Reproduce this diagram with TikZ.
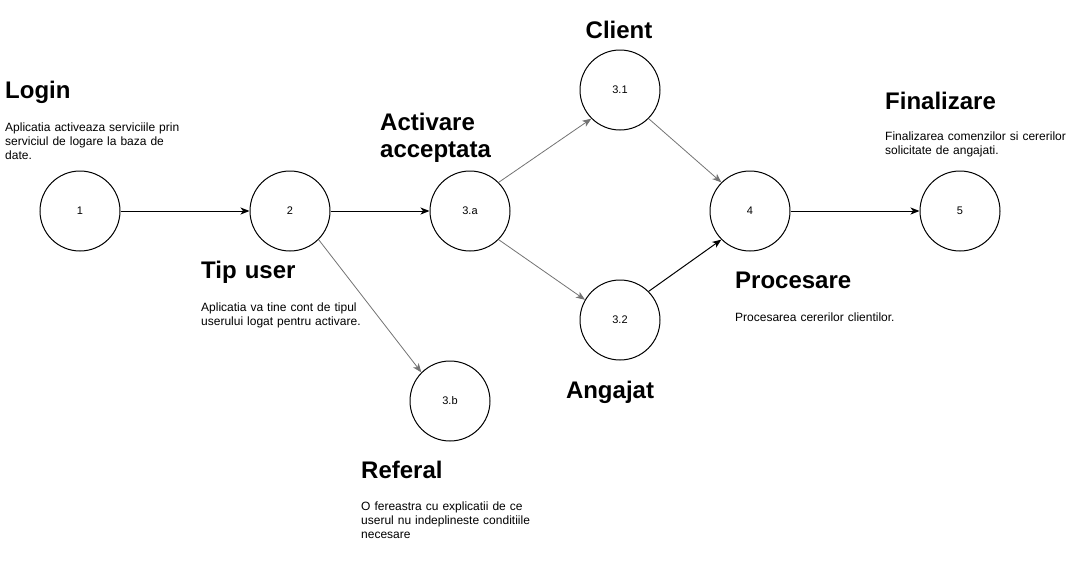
\documentclass[tikz,border=0pt]{standalone}
\usepackage{fontspec}
\setmainfont{Liberation Sans}
\usetikzlibrary{arrows.meta}
\tikzset{%
  proc/.style={
    draw, circle, minimum size=80pt, inner sep=0pt, line width=1pt,
    font=\fontsize{11}{13}\selectfont},
  heading/.style={
    anchor=base west, inner sep=0pt, text width=160pt,
    font=\fontsize{24}{27}\selectfont\bfseries},
  note/.style={
    anchor=base west, inner sep=0pt, text width=200pt,
    font=\fontsize{12}{14}\selectfont},
  every edge/.style={
    draw,
    ->,
    >={Stealth[length=9pt,width=7pt,inset=2.5pt]},
    line width=1pt},
  faint/.style={black!55, line width=0.8pt}
}
\begin{document}
\begin{tikzpicture}[x=1pt, y=-1pt]
    \useasboundingbox (0,0) rectangle (1071,571);

    % processes
    \node[proc] (P1)  at (80,211)  {1};
    \node[proc] (P2)  at (290,211) {2};
    \node[proc] (P3a) at (470,211) {3.a};
    \node[proc] (P31) at (620,90)  {3.1};
    \node[proc] (P32) at (620,320) {3.2};
    \node[proc] (P3b) at (450,401) {3.b};
    \node[proc] (P4)  at (750,211) {4};
    \node[proc] (P5)  at (960,211) {5};

    % headings and notes
    \node[heading] (T1) at (5,98) {Login};
    \node[note] (D1) at (5,131) {Aplicatia activeaza serviciile prin\\
      serviciul de logare la baza de\\ date.};
    \node[heading] (T2) at (201,278) {Tip user};
    \node[note] (D2) at (201,311) {Aplicatia va tine cont de tipul\\
      userului logat pentru activare.};
    \node[heading] (T3a) at (380,130) {Activare\\ acceptata};
    \node[heading, anchor=base, text width=] (T31) at (619,38) {Client};
    \node[heading, anchor=base, text width=] (T32) at (610,398) {Angajat};
    \node[heading] (T3b) at (361,478) {Referal};
    \node[note] (D3b) at (361,510) {O fereastra cu explicatii de ce\\
      userul nu indeplineste conditiile\\ necesare};
    \node[heading] (T4) at (735,288) {Procesare};
    \node[note] (D4) at (735,321) {Procesarea cererilor clientilor.};
    \node[heading] (T5) at (885,109) {Finalizare};
    \node[note] (D5) at (885,140) {Finalizarea comenzilor si cererilor\\
      solicitate de angajati.};

    \draw
      (P1) edge (P2)
      (P2) edge (P3a)
      (P3a.north east) edge [faint] (P31.south west)
      (P31.south east) edge [faint] (P4.north west)
      (P3a.south east) edge [faint] (P32.150)
      (P32.north east) edge (P4.south west)
      (P2.south east) edge [faint] (P3b.north west)
      (P4) edge (P5)
    ;

\end{tikzpicture}
\end{document}
